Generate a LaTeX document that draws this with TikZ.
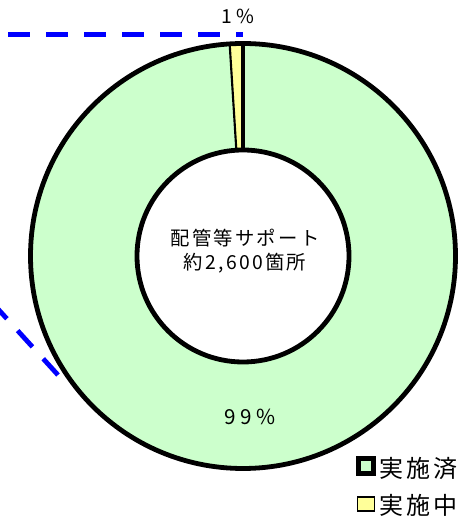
\documentclass[tikz,border=0pt]{standalone}
\usepackage{fontspec}
\setmainfont{Noto Sans CJK JP}
\newfontfamily\jpwide[LetterSpace=12]{Noto Sans CJK JP}
\newfontfamily\jpwider[LetterSpace=22]{Noto Sans CJK JP}
\usepackage{tikz}
\usetikzlibrary{calc}
\definecolor{donegreen}{HTML}{CCFFCC}
\definecolor{wipyellow}{HTML}{FFFF99}
\definecolor{callblue}{HTML}{0000FF}

\begin{document}
\begin{tikzpicture}[x=0.75pt,y=0.75pt,yscale=1,xscale=1,
    ring/.style={line width=3.6pt},
    callout/.style={callblue,line width=3.6pt,dash pattern=on 16.5pt off 12pt}]
        \useasboundingbox (0,0) rectangle (466,516);
        \clip (0,0) rectangle (466,516);
        % donut slices
        \fill [donegreen] (243,260)++(93.6:212.5) arc (93.6:450:212.5)
            -- ++(0,-106.5) arc (450:93.6:106) -- cycle;
        \fill [wipyellow] (243,260)++(90:212.5) arc (90:93.6:212.5)
            -- ($(243,260)+(93.6:106)$) arc (93.6:90:106) -- cycle;
        \draw [ring] (243,260) circle (212.5);
        \draw [ring] (243,260) circle (106);
        \draw [line width=3pt] (243,366) -- (243,472.5);
        \draw [line width=1.6pt] (243,260)++(93.6:106) -- ++(93.6:106.5);
        % callout lines
        \coordinate (hstart) at (8,481.5);
        \coordinate (hend) at (243,481.5);
        \coordinate (dend) at (58,141);
        \coordinate (dstart) at (-32,240);
        \draw [callout] (hstart) -- (hend);
        \draw [callout] (dend) -- (dstart);
        % labels
        \node (title) at (245,278) {\jpwide\fontsize{14.5pt}{16pt}\selectfont 配管等サポート};
        \node (count) at (245,253) {\jpwide\fontsize{14.5pt}{16pt}\selectfont 約2{,}600箇所};
        \node (pctwip) at (238,499.5) {\jpwider\fontsize{14.5pt}{16pt}\selectfont 1\%};
        \node (pctdone) at (250,99) {\jpwider\fontsize{15.5pt}{17pt}\selectfont 99\%};
        % legend
        \draw [line width=3.75pt,fill=donegreen] (358,42) rectangle (373,57);
        \draw [line width=1.2pt,fill=wipyellow] (357.5,5) rectangle (374.5,19);
        \node (legdone) [anchor=west,inner sep=0pt] at (379,48)
            {\jpwide\fontsize{18pt}{20pt}\selectfont 実施済};
        \node (legwip) [anchor=west,inner sep=0pt] at (379,11)
            {\jpwide\fontsize{18pt}{20pt}\selectfont 実施中};
    \end{tikzpicture}
\end{document}
